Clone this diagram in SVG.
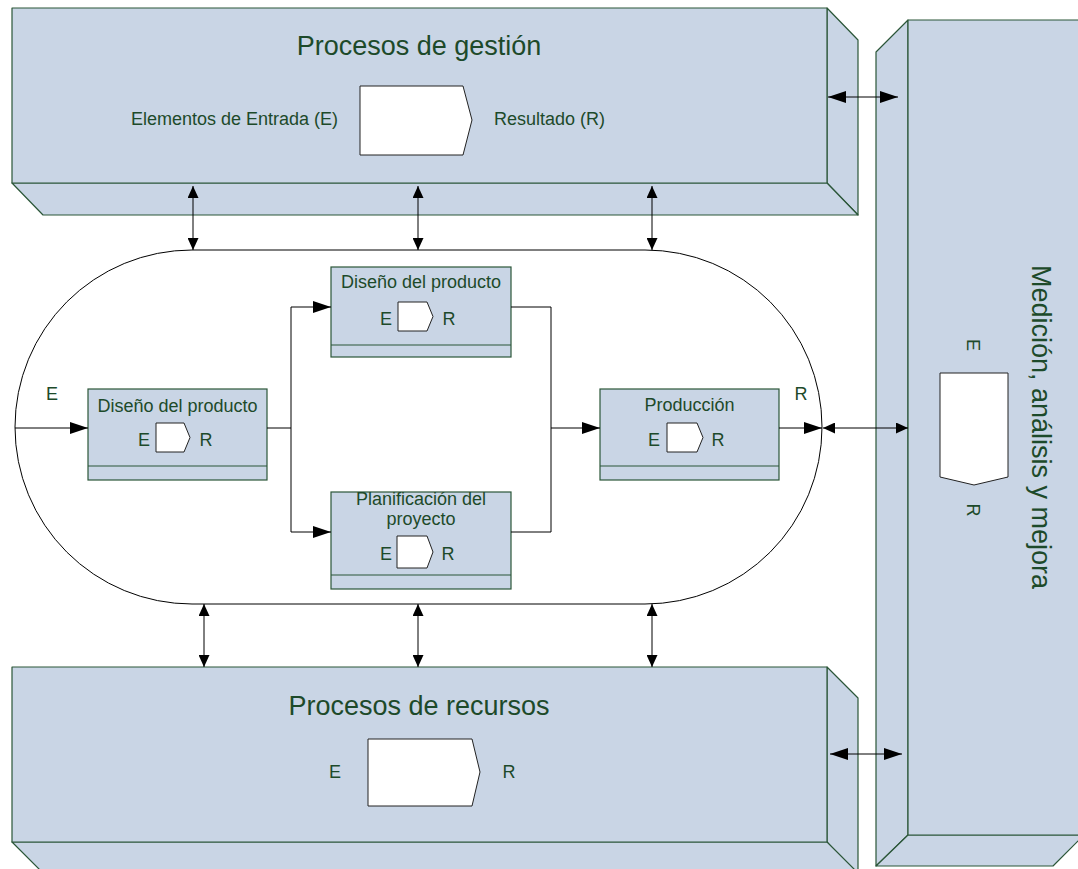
<svg xmlns="http://www.w3.org/2000/svg" width="1078" height="869" viewBox="0 0 1078 869">
<style>
.blk{fill:#c9d5e5;stroke:#2b5638;stroke-width:1.2;stroke-linejoin:round}
.box{fill:#c9d5e5;stroke:#2b5638;stroke-width:1.2}
.io{fill:#fff;stroke:#222;stroke-width:1}
.t{font-family:"Liberation Sans",Arial,sans-serif;fill:#1d4a2a}
.big{font-size:27px}
.sm{font-size:18px}
.c{stroke:#000;stroke-width:1;fill:none}
</style>
<defs>
<marker id="ah" viewBox="0 0 18 12" refX="18" refY="6" markerWidth="18" markerHeight="12" markerUnits="userSpaceOnUse" orient="auto-start-reverse">
<path d="M0,0 L18,6 L0,12 Z" fill="#000"/>
</marker>
<marker id="as" viewBox="0 0 12 11" refX="12" refY="5.5" markerWidth="12" markerHeight="11" markerUnits="userSpaceOnUse" orient="auto-start-reverse">
<path d="M0,0 L12,5.5 L0,11 Z" fill="#000"/>
</marker>
</defs>
<rect width="1078" height="869" fill="#fff"/>

<g id="gestion">
<polygon class="blk" points="827,8 858,40 858,215 827,183"/>
<polygon class="blk" points="12,183 827,183 858,215 43,215"/>
<rect class="blk" x="12" y="8" width="815" height="175"/>
<text class="t big" x="419" y="55" text-anchor="middle">Procesos de gestión</text>
<text class="t sm" x="338" y="125" text-anchor="end">Elementos de Entrada (E)</text>
<polygon class="io" points="360,86 463,86 472,120 463,155 360,155"/>
<text class="t sm" x="494" y="125">Resultado (R)</text>
</g>

<g id="medicion">
<polygon class="blk" points="908,20 876,52 876,866 908,835"/>
<polygon class="blk" points="876,866 908,835 1084,835 1053,866"/>
<rect class="blk" x="908" y="20" width="176" height="815"/>
<text class="t big" transform="translate(1032,427) rotate(90)" text-anchor="middle">Medición, análisis y mejora</text>
<text class="t sm" transform="translate(967,345) rotate(90)" text-anchor="middle">E</text>
<polygon class="io" points="940,373 1008,373 1008,477 974,485 940,477"/>
<text class="t sm" transform="translate(967,510) rotate(90)" text-anchor="middle">R</text>
</g>

<g id="recursos">
<polygon class="blk" points="827,667 858,698 858,880 827,842"/>
<polygon class="blk" points="12,842 827,842 858,873 43,873"/>
<rect class="blk" x="12" y="667" width="815" height="175"/>
<text class="t big" x="419" y="715" text-anchor="middle">Procesos de recursos</text>
<text class="t sm" x="335" y="778" text-anchor="middle">E</text>
<polygon class="io" points="368,739 472,739 480,772 472,806 368,806"/>
<text class="t sm" x="509" y="778" text-anchor="middle">R</text>
</g>

<g id="realizacion">
<rect x="15" y="250" width="807" height="354" rx="177" ry="177" fill="#fff" stroke="#000" stroke-width="1"/>
<text class="t sm" x="52" y="400" text-anchor="middle">E</text>
<text class="t sm" x="801" y="400" text-anchor="middle">R</text>
</g>

<g id="diseno1">
<rect class="box" x="88" y="389" width="179" height="91"/>
<line class="box" x1="88" y1="466" x2="267" y2="466"/>
<text class="t sm" x="177.5" y="412" text-anchor="middle">Diseño del producto</text>
<text class="t sm" x="144" y="446" text-anchor="middle">E</text>
<polygon class="io" points="156,423 184,423 190,437.5 184,452 156,452"/>
<text class="t sm" x="206" y="446" text-anchor="middle">R</text>
</g>

<g id="diseno2">
<rect class="box" x="331" y="267" width="180" height="90"/>
<line class="box" x1="331" y1="345" x2="511" y2="345"/>
<text class="t sm" x="421" y="288" text-anchor="middle">Diseño del producto</text>
<text class="t sm" x="386" y="325" text-anchor="middle">E</text>
<polygon class="io" points="398,302 427,302 433,316.5 427,331 398,331"/>
<text class="t sm" x="449" y="325" text-anchor="middle">R</text>
</g>

<g id="planificacion">
<rect class="box" x="331" y="492" width="180" height="97"/>
<line class="box" x1="331" y1="575" x2="511" y2="575"/>
<text class="t sm" x="421" y="505" text-anchor="middle">Planificación del</text>
<text class="t sm" x="421" y="525" text-anchor="middle">proyecto</text>
<text class="t sm" x="386" y="560" text-anchor="middle">E</text>
<polygon class="io" points="397,536 427,536 433,552 427,568 397,568"/>
<text class="t sm" x="448" y="560" text-anchor="middle">R</text>
</g>

<g id="produccion">
<rect class="box" x="600" y="389" width="179" height="91"/>
<line class="box" x1="600" y1="466" x2="779" y2="466"/>
<text class="t sm" x="689.5" y="411" text-anchor="middle">Producción</text>
<text class="t sm" x="654" y="446" text-anchor="middle">E</text>
<polygon class="io" points="667,423 697,423 703,437.5 697,452 667,452"/>
<text class="t sm" x="718" y="446" text-anchor="middle">R</text>
</g>

<g id="connectors">
<line class="c" x1="193" y1="186" x2="193" y2="250" marker-start="url(#as)" marker-end="url(#as)"/>
<line class="c" x1="418" y1="186" x2="418" y2="250" marker-start="url(#as)" marker-end="url(#as)"/>
<line class="c" x1="652" y1="186" x2="652" y2="250" marker-start="url(#as)" marker-end="url(#as)"/>
<line class="c" x1="204" y1="604" x2="204" y2="667" marker-start="url(#as)" marker-end="url(#as)"/>
<line class="c" x1="418" y1="604" x2="418" y2="667" marker-start="url(#as)" marker-end="url(#as)"/>
<line class="c" x1="652" y1="604" x2="652" y2="667" marker-start="url(#as)" marker-end="url(#as)"/>
<line class="c" x1="828" y1="97" x2="898" y2="97" marker-start="url(#ah)" marker-end="url(#ah)"/>
<line class="c" x1="830" y1="754" x2="902" y2="754" marker-start="url(#ah)" marker-end="url(#ah)"/>
<line class="c" x1="823" y1="428" x2="908" y2="428" marker-start="url(#as)" marker-end="url(#as)"/>
<line class="c" x1="15" y1="428" x2="88" y2="428" marker-end="url(#ah)"/>
<path class="c" d="M267,428 H291"/>
<path class="c" d="M291,532 V307 H331" marker-end="url(#ah)"/>
<path class="c" d="M291,532 H331" marker-end="url(#ah)"/>
<path class="c" d="M511,307 H551 V532 H511"/>
<line class="c" x1="551" y1="428" x2="600" y2="428" marker-end="url(#ah)"/>
<line class="c" x1="779" y1="428" x2="822" y2="428" marker-end="url(#ah)"/>
</g>
</svg>
